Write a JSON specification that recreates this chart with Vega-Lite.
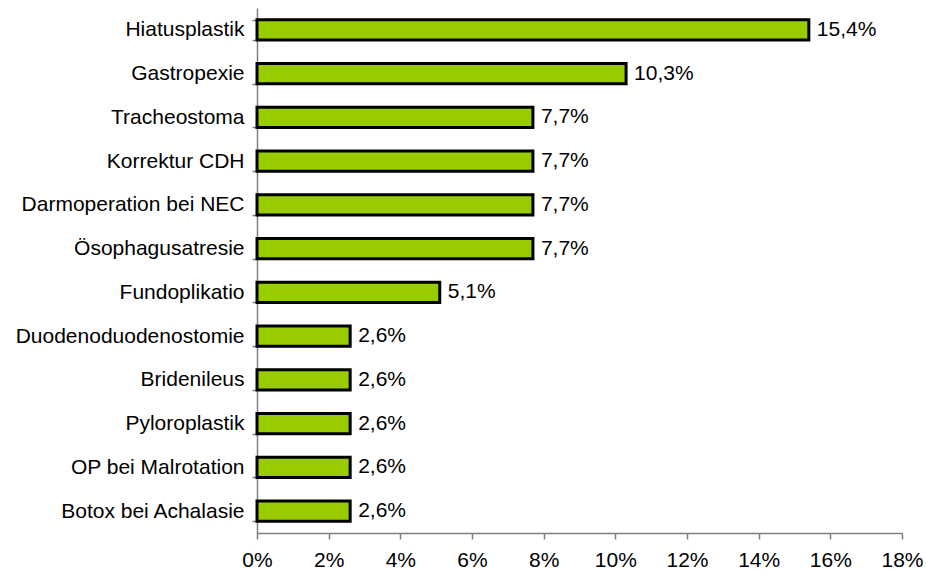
{
  "$schema": "https://vega.github.io/schema/vega-lite/v6.json",
  "width": 645,
  "height": 525,
  "autosize": {"type": "none"},
  "padding": {"left": 257, "top": 8, "right": 24, "bottom": 42},
  "background": "white",
  "config": {
    "locale": {"number": {"decimal": ",", "thousands": ".", "grouping": [3], "currency": ["", " €"]}},
    "font": "Liberation Sans",
    "view": {"stroke": null}
  },
  "data": {
    "values": [
      {"op": "Hiatusplastik", "v": 0.154},
      {"op": "Gastropexie", "v": 0.103},
      {"op": "Tracheostoma", "v": 0.077},
      {"op": "Korrektur CDH", "v": 0.077},
      {"op": "Darmoperation bei NEC", "v": 0.077},
      {"op": "Ösophagusatresie", "v": 0.077},
      {"op": "Fundoplikatio", "v": 0.051},
      {"op": "Duodenoduodenostomie", "v": 0.026},
      {"op": "Bridenileus", "v": 0.026},
      {"op": "Pyloroplastik", "v": 0.026},
      {"op": "OP bei Malrotation", "v": 0.026},
      {"op": "Botox bei Achalasie", "v": 0.026}
    ]
  },
  "encoding": {
    "y": {
      "field": "op", "type": "nominal", "sort": null, "title": null,
      "scale": {"paddingInner": 0.54, "paddingOuter": 0.27},
      "axis": {
        "tickBand": "extent", "tickSize": 5, "tickColor": "#808080", "domainColor": "#808080",
        "labelFontSize": 21, "labelColor": "black", "labelPadding": 8, "grid": false, "labelLimit": 400,
        "domainWidth": 1.5, "tickWidth": 1.5
      }
    },
    "x": {
      "field": "v", "type": "quantitative", "title": null,
      "scale": {"domain": [0, 0.18], "nice": false},
      "axis": {
        "format": ".0%", "values": [0, 0.02, 0.04, 0.06, 0.08, 0.1, 0.12, 0.14, 0.16, 0.18],
        "tickSize": 6, "tickColor": "#808080", "domainColor": "#808080",
        "labelFontSize": 21, "labelColor": "black", "labelPadding": 10, "grid": false,
        "domainWidth": 1.5, "tickWidth": 1.5, "labelFlush": false
      }
    }
  },
  "layer": [
    {"mark": {"type": "bar", "color": "#99CC00", "stroke": "black", "strokeWidth": 3}},
    {
      "mark": {"type": "text", "align": "left", "baseline": "middle", "dx": 8, "fontSize": 21, "color": "black"},
      "encoding": {"text": {"field": "v", "type": "quantitative", "format": ".1%"}}
    }
  ]
}
